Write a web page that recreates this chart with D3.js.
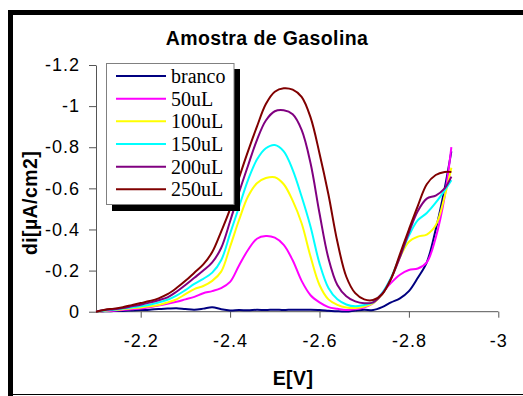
<!DOCTYPE html>
<html lang="en">
<head>
<meta charset="UTF-8">
<title>Amostra de Gasolina</title>
<script src="https://d3js.org/d3.v7.min.js"></script>
<style>
    body { margin: 0; padding: 0; background: #fff; }
    svg { display: block; }
    .tick-label { font-family: "Liberation Sans", Arial, sans-serif; font-size: 18px; letter-spacing: 1px; fill: #000; }
    .axis-title { font-family: "Liberation Sans", Arial, sans-serif; font-size: 19.5px; font-weight: bold; letter-spacing: 0.4px; fill: #000; }
    .legend-text { font-family: "Liberation Serif", "Times New Roman", serif; font-size: 20px; fill: #000; }
</style>
</head>
<body>
<script>
// potential grid (V)
const potentials = [-2.10, -2.12, -2.14, -2.16, -2.18, -2.20, -2.22, -2.24, -2.26, -2.28,
    -2.30, -2.32, -2.34, -2.36, -2.38, -2.40, -2.42, -2.44, -2.46, -2.48,
    -2.50, -2.52, -2.54, -2.56, -2.58, -2.60, -2.62, -2.64, -2.66, -2.68,
    -2.70, -2.72, -2.74, -2.76, -2.78, -2.80, -2.82, -2.84, -2.86, -2.88, -2.895];

const branco = [0, -0.002, -0.003, -0.004, -0.006, -0.008, -0.010, -0.013, -0.015, -0.017,
    -0.013, -0.010, -0.015, -0.022, -0.012, -0.006, -0.008, -0.007, -0.009, -0.008,
    -0.010, -0.008, -0.010, -0.009, -0.010, -0.008, -0.005, -0.002, -0.001, -0.006,
    -0.010, -0.008, -0.022, -0.045, -0.065, -0.100, -0.165, -0.240, -0.400, -0.600, -0.780];
const s50 = [0, -0.003, -0.005, -0.008, -0.012, -0.016, -0.022, -0.030, -0.038, -0.048,
    -0.060, -0.072, -0.090, -0.100, -0.115, -0.145, -0.225, -0.300, -0.355, -0.368,
    -0.360, -0.325, -0.250, -0.150, -0.080, -0.045, -0.022, -0.014, -0.008, -0.012,
    -0.020, -0.041, -0.090, -0.140, -0.180, -0.203, -0.210, -0.240, -0.360, -0.560, -0.800];
const s100 = [0, -0.005, -0.008, -0.012, -0.017, -0.021, -0.026, -0.032, -0.045, -0.060,
    -0.085, -0.110, -0.125, -0.150, -0.195, -0.316, -0.446, -0.560, -0.625, -0.650,
    -0.654, -0.620, -0.540, -0.430, -0.268, -0.130, -0.060, -0.033, -0.020, -0.018,
    -0.025, -0.041, -0.085, -0.160, -0.265, -0.340, -0.365, -0.375, -0.420, -0.560, -0.700];
const s150 = [0, -0.006, -0.010, -0.015, -0.020, -0.026, -0.034, -0.045, -0.058, -0.078,
    -0.105, -0.135, -0.160, -0.190, -0.250, -0.380, -0.510, -0.640, -0.740, -0.795,
    -0.811, -0.780, -0.690, -0.560, -0.413, -0.235, -0.115, -0.060, -0.035, -0.026,
    -0.033, -0.045, -0.090, -0.165, -0.270, -0.370, -0.445, -0.480, -0.530, -0.590, -0.640];
const s200 = [0, -0.008, -0.012, -0.018, -0.026, -0.034, -0.044, -0.056, -0.070, -0.097,
    -0.130, -0.165, -0.200, -0.240, -0.310, -0.440, -0.580, -0.710, -0.835, -0.930,
    -0.975, -0.980, -0.960, -0.884, -0.722, -0.479, -0.260, -0.130, -0.075, -0.050,
    -0.041, -0.045, -0.085, -0.160, -0.265, -0.385, -0.490, -0.550, -0.565, -0.600, -0.657];
const s250 = [0, -0.010, -0.015, -0.022, -0.032, -0.042, -0.052, -0.065, -0.085, -0.115,
    -0.150, -0.190, -0.230, -0.290, -0.390, -0.500, -0.650, -0.780, -0.900, -1.010,
    -1.070, -1.087, -1.080, -1.045, -0.945, -0.770, -0.570, -0.340, -0.170, -0.090,
    -0.060, -0.057, -0.085, -0.160, -0.280, -0.400, -0.515, -0.620, -0.665, -0.680, -0.680];

const seriesNames = ["branco", "50uL", "100uL", "150uL", "200uL", "250uL"];
const seriesColors = ["#000080", "#ff00ff", "#ffff00", "#00ffff", "#800080", "#800000"];
const seriesValues = [branco, s50, s100, s150, s200, s250];

const xTicks = [-2.2, -2.4, -2.6, -2.8, -3];
const yTicks = [0, -0.2, -0.4, -0.6, -0.8, -1, -1.2];

const W = 523, H = 396;

const svg = d3.select("body").append("svg")
    .attr("width", W)
    .attr("height", H);

svg.append("rect").attr("width", W).attr("height", H).attr("fill", "#fff");

// chart frame: heavy top/left, thin bottom
svg.append("rect").attr("x", 8).attr("y", 10).attr("width", W - 8).attr("height", 5).attr("fill", "#000");
svg.append("rect").attr("x", 8).attr("y", 10).attr("width", 5).attr("height", H - 10).attr("fill", "#000");
svg.append("line").attr("x1", 13).attr("x2", W).attr("y1", 394.5).attr("y2", 394.5)
    .attr("stroke", "#000").attr("stroke-width", 1);

const x = d3.scaleLinear().domain([-2.1, -3]).range([96, 498.3]);
const y = d3.scaleLinear().domain([0, -1.2]).range([311.7, 65]);

const fmt = d => d === 0 ? "0" : String(d);

// x axis
const xAxis = svg.append("g")
    .attr("transform", `translate(0,${y(0)})`)
    .call(d3.axisBottom(x).tickValues(xTicks).tickSize(6).tickSizeOuter(0).tickFormat(fmt));
xAxis.select(".domain").attr("stroke", "#555").attr("d", `M${x(-2.1)},0H${x(-3)}`);
xAxis.selectAll(".tick line").attr("stroke", "#555");
xAxis.selectAll(".tick text").attr("class", "tick-label").attr("dy", "1.45em");

// y axis
const yAxis = svg.append("g")
    .attr("transform", `translate(${x(-2.1)},0)`)
    .call(d3.axisLeft(y).tickValues(yTicks).tickSize(7).tickSizeOuter(0).tickFormat(fmt));
yAxis.select(".domain").attr("stroke", "#555");
yAxis.selectAll(".tick line").attr("stroke", "#555");
yAxis.selectAll(".tick text").attr("class", "tick-label").attr("x", -16);

// series
const line = d3.line()
    .x((d, i) => x(potentials[i]))
    .y(d => y(d))
    .curve(d3.curveCatmullRom.alpha(0.5));

svg.append("g").selectAll("path")
    .data(seriesValues)
    .join("path")
    .attr("d", d => line(d))
    .attr("fill", "none")
    .attr("stroke", (d, i) => seriesColors[i])
    .attr("stroke-width", 2);

// titles
svg.append("text").attr("class", "axis-title")
    .attr("x", 267).attr("y", 45).attr("text-anchor", "middle")
    .text("Amostra de Gasolina");
svg.append("text").attr("class", "axis-title")
    .attr("x", 293).attr("y", 385).attr("text-anchor", "middle")
    .text("E[V]");
svg.append("text").attr("class", "axis-title")
    .attr("transform", "translate(37,203) rotate(-90)")
    .attr("text-anchor", "middle")
    .text("di[µA/cm2]");

// legend
const legend = svg.append("g");
legend.append("rect").attr("x", 112).attr("y", 69).attr("width", 128).attr("height", 142).attr("fill", "#000");
legend.append("rect").attr("x", 106.5).attr("y", 63.5).attr("width", 127.5).attr("height", 141)
    .attr("fill", "#fff").attr("stroke", "#808080").attr("stroke-width", 1);

const rows = legend.selectAll("g.row")
    .data(seriesNames)
    .join("g")
    .attr("class", "row")
    .attr("transform", (d, i) => `translate(0,${76 + i * 22.66})`);
rows.append("line")
    .attr("x1", 116).attr("x2", 166)
    .attr("stroke", (d, i) => seriesColors[i])
    .attr("stroke-width", 2);
rows.append("text").attr("class", "legend-text")
    .attr("x", 171).attr("dy", "0.35em")
    .text(d => d);
</script>
</body>
</html>
